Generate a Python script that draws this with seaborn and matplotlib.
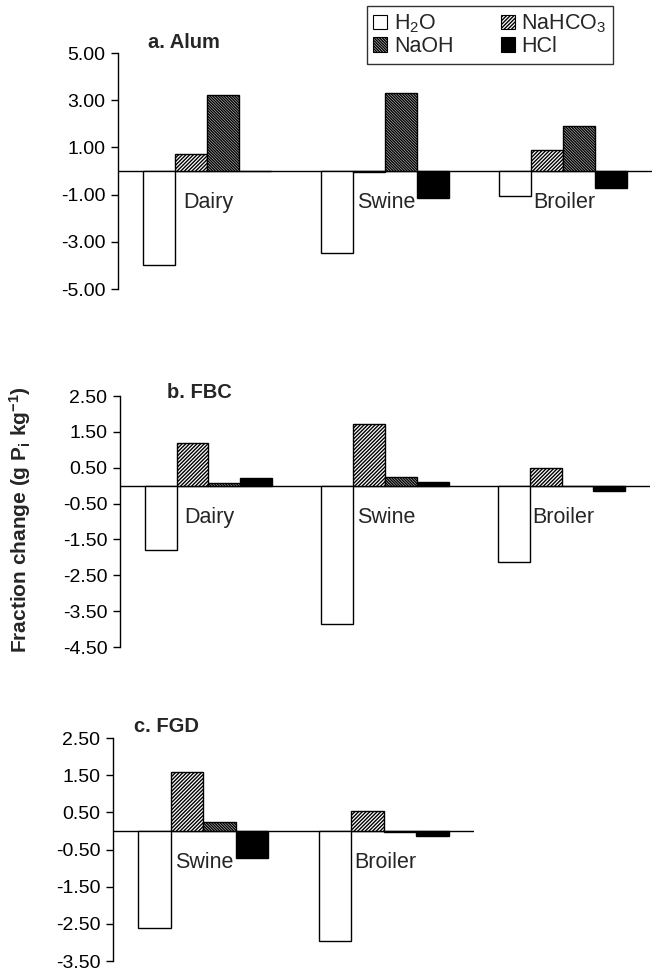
import numpy as np
import pandas as pd
import matplotlib
matplotlib.use("Agg")
import matplotlib.pyplot as plt
from matplotlib.patches import Patch
import seaborn as sns

# Data (g Pi kg-1 fraction change)
treatments = ["H2O", "NaHCO3", "NaOH", "HCl"]
legend_labels = {"H2O": "H$_2$O", "NaHCO3": "NaHCO$_3$", "NaOH": "NaOH", "HCl": "HCl"}

alum_manures = ["Dairy", "Swine", "Broiler"]
alum_h2o = [-3.98, -3.46, -1.05]
alum_nahco3 = [0.73, -0.05, 0.88]
alum_naoh = [3.23, 3.32, 1.89]
alum_hcl = [0.0, -1.16, -0.71]

fbc_manures = ["Dairy", "Swine", "Broiler"]
fbc_h2o = [-1.80, -3.86, -2.13]
fbc_nahco3 = [1.18, 1.72, 0.50]
fbc_naoh = [0.06, 0.25, -0.02]
fbc_hcl = [0.21, 0.10, -0.16]

fgd_manures = ["Swine", "Broiler"]
fgd_h2o = [-2.62, -2.97]
fgd_nahco3 = [1.59, 0.54]
fgd_naoh = [0.24, -0.03]
fgd_hcl = [-0.74, -0.14]

alum_ticks = [5.0, 3.0, 1.0, -1.0, -3.0, -5.0]
fbc_ticks = [2.5, 1.5, 0.5, -0.5, -1.5, -2.5, -3.5, -4.5]
fgd_ticks = [2.5, 1.5, 0.5, -0.5, -1.5, -2.5, -3.5]

sns.set_style("white")
plt.rcParams["font.family"] = ["Liberation Sans", "DejaVu Sans"]
plt.rcParams["mathtext.default"] = "regular"
plt.rcParams["axes.unicode_minus"] = False
plt.rcParams["hatch.linewidth"] = 1.0

palette = {"H2O": "white", "NaHCO3": "white", "NaOH": "#d0d0d0", "HCl": "black"}
hatches = {"H2O": "", "NaHCO3": "/" * 9, "NaOH": "\\" * 12, "HCl": ""}

W, H = 655, 972
fig = plt.figure(figsize=(W / 100, H / 100), dpi=100)


def px_axes(left, right, top, bottom):
    return fig.add_axes([left / W, 1 - bottom / H, (right - left) / W, (bottom - top) / H])


def make_df(manures, h2o, nahco3, naoh, hcl):
    rows = []
    for vals, t in zip([h2o, nahco3, naoh, hcl], treatments):
        for m, v in zip(manures, vals):
            rows.append({"manure": m, "treatment": t, "value": v})
    return pd.DataFrame(rows)


panels = [
    ("a. Alum", alum_manures, make_df(alum_manures, alum_h2o, alum_nahco3, alum_naoh, alum_hcl),
     alum_ticks, (118, 652, 53, 289), (148, 42)),
    ("b. FBC", fbc_manures, make_df(fbc_manures, fbc_h2o, fbc_nahco3, fbc_naoh, fbc_hcl),
     fbc_ticks, (120, 650, 396, 647), (167, 392)),
    ("c. FGD", fgd_manures, make_df(fgd_manures, fgd_h2o, fgd_nahco3, fgd_naoh, fgd_hcl),
     fgd_ticks, (113, 474, 738, 961), (134, 727)),
]

for title, manures, df, ticks, box, tpos in panels:
    ax = px_axes(*box)
    sns.barplot(data=df, x="manure", y="value", hue="treatment", order=manures,
                hue_order=treatments, palette=palette, width=0.72,
                edgecolor="black", linewidth=1.0, ax=ax, legend=False)
    for cont, t in zip(ax.containers, treatments):
        for bar in cont:
            bar.set_hatch(hatches[t])
    ax.axhline(0, color="black", lw=1.0, zorder=0.5)
    ax.set_xlim(-0.5, len(manures) - 0.5)
    ax.set_ylim(min(ticks), max(ticks))
    ax.set_yticks(ticks)
    ax.set_yticklabels([f"{t:.2f}" for t in ticks])
    ax.set_xticks([])
    ax.set_xlabel("")
    ax.set_ylabel("")
    for s in ["top", "right", "bottom"]:
        ax.spines[s].set_visible(False)
    ax.spines["left"].set_color("black")
    ax.spines["left"].set_linewidth(1.0)
    ax.tick_params(axis="y", left=True, direction="out", length=5, width=1,
                   labelsize=14, colors="black", pad=4)
    for i, m in enumerate(manures):
        ax.annotate(m, xy=(i, 0), xytext=(1, -23), textcoords="offset points",
                    ha="center", va="center", fontsize=15.5)
    fig.text(tpos[0] / W, 1 - tpos[1] / H, title, ha="left", va="center",
             fontsize=14.5, fontweight="bold")

fig.text(20 / W, 1 - 520 / H, "Fraction change (g P$_i$ kg$^{-1}$)", rotation=90,
         ha="center", va="center", fontsize=15, fontweight="bold")

handles = {t: Patch(facecolor=palette[t], edgecolor="black", hatch=hatches[t], lw=0.8)
           for t in treatments}
order = ["H2O", "NaOH", "NaHCO3", "HCl"]
leg = fig.legend([handles[t] for t in order], [legend_labels[t] for t in order],
                 ncol=2, loc="upper left", bbox_to_anchor=(367 / W, 1 - 6 / H),
                 frameon=True, fancybox=False, fontsize=15.5, handlelength=0.65,
                 handleheight=0.65, handletextpad=0.3, columnspacing=2.2,
                 labelspacing=0.05, borderpad=0.3, borderaxespad=0)
leg.get_frame().set_edgecolor("black")
leg.get_frame().set_linewidth(1.0)

fig.savefig("out.png", dpi=100, facecolor="white")
